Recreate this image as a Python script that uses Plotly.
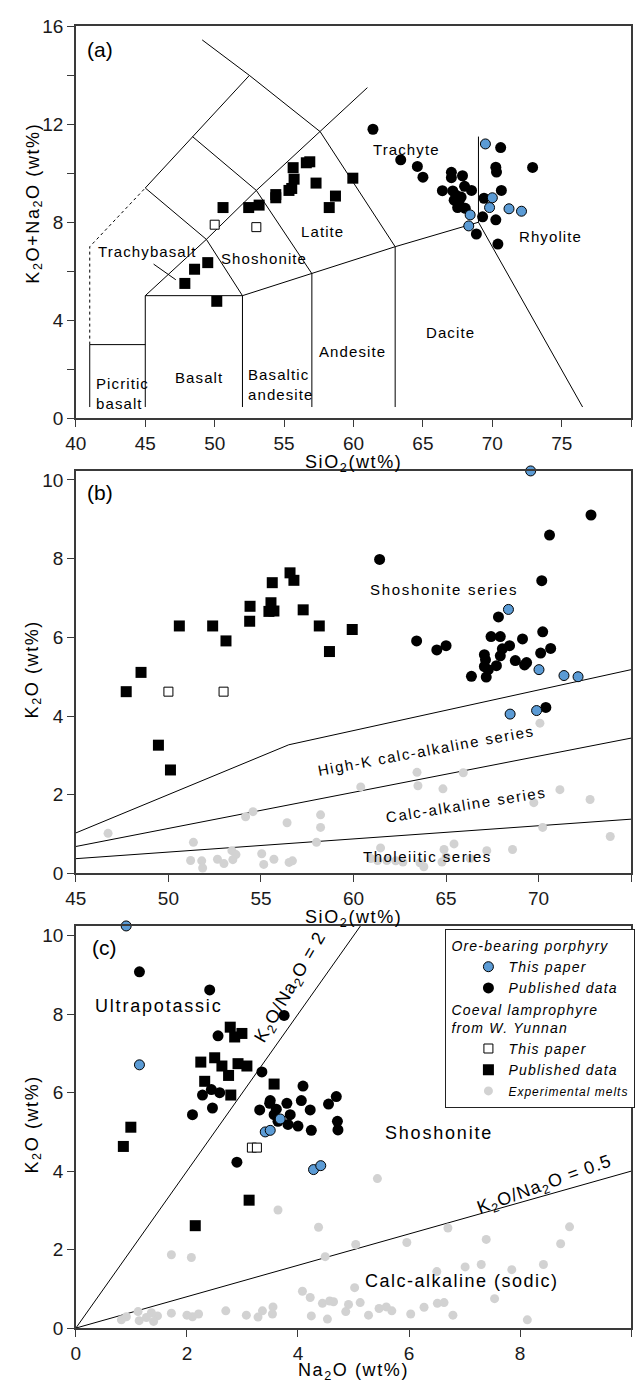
import plotly.graph_objects as go

FONT = "Arial, 'Liberation Sans', sans-serif"

# ---------------- Panel (a): TAS ----------------
A_LAMP_PUB_SIO2 = [47.85, 48.55, 49.5, 50.15, 50.6, 52.45, 53.2, 54.4, 54.4, 55.35, 55.55, 55.65, 55.72, 56.6, 56.85, 57.3, 58.25, 58.7, 59.95]
A_LAMP_PUB_ALK = [5.5, 6.08, 6.35, 4.77, 8.6, 8.6, 8.7, 9.13, 9.0, 9.3, 9.38, 10.23, 9.76, 10.43, 10.47, 9.6, 8.6, 9.07, 9.8]
A_LAMP_THIS_SIO2 = [50.0, 53.0]
A_LAMP_THIS_ALK = [7.9, 7.8]
A_POR_PUB_SIO2 = [61.4, 63.4, 64.6, 65.0, 66.4, 67.05, 67.05, 67.15, 67.85, 68.0, 67.25, 67.5, 67.75, 68.05, 68.5,
                  68.85, 69.3, 69.4, 70.25, 70.25, 70.3, 70.4, 70.6, 70.65, 72.9, 67.4, 67.6]
A_POR_PUB_ALK = [11.8, 10.55, 10.28, 9.84, 9.29, 10.04, 9.82, 9.28, 9.9, 9.47, 8.9, 8.6, 9.03, 8.57, 9.3,
                 7.52, 8.22, 8.98, 8.1, 10.25, 10.05, 7.11, 11.05, 9.3, 10.24, 9.1, 8.85]
A_POR_THIS_SIO2 = [69.5, 70.0, 69.8, 71.2, 72.1, 68.4, 68.3]
A_POR_THIS_ALK = [11.2, 9.0, 8.6, 8.55, 8.45, 8.3, 7.85]

# TAS field boundaries (SiO2, K2O+Na2O)
TAS_SOLID = [
    [(41, 0.45), (41, 3), (45, 3)],
    [(45, 0.45), (45, 5), (52, 5), (57, 5.9), (63, 7), (69, 8)],
    [(52, 0.45), (52, 5)],
    [(57, 0.45), (57, 5.9)],
    [(63, 0.45), (63, 7)],
    [(45, 5), (49.4, 7.3), (53, 9.3), (57.6, 11.7), (61, 13.5)],
    [(52, 5), (49.4, 7.3), (45, 9.4)],
    [(57, 5.9), (53, 9.3), (48.4, 11.5)],
    [(63, 7), (57.6, 11.7), (52.5, 14), (49.1, 15.45)],
    [(45, 9.4), (48.4, 11.5), (52.5, 14)],
    [(69, 11.5), (69, 8), (76.5, 0.45)],
    [(45.6, 6.29), (47.2, 5.65)],
]
TAS_DOTTED = [(41, 3), (41, 7), (45, 9.4)]
TAS_LABELS = [
    ("Trachyte", 63.8, 10.98), ("Latite", 57.75, 7.62), ("Shoshonite", 53.55, 6.5),
    ("Trachybasalt", 45.15, 6.81), ("Rhyolite", 74.2, 7.43), ("Dacite", 67.0, 3.48),
    ("Andesite", 59.9, 2.7), ("Basalt", 48.9, 1.65),
]
TAS_LABELS_LEFT = [("Basaltic<br>andesite", 52.25, 1.38), ("Picritic<br>basalt", 41.3, 1.01)]

# ---------------- Panel (b): SiO2 vs K2O ----------------
B_LAMP_PUB_SIO2 = [47.72, 48.52, 49.46, 50.11, 50.59, 52.39, 53.11, 54.39, 54.41, 55.43, 55.54, 55.7, 55.61, 56.57, 56.78, 57.28, 58.15, 58.7, 59.93]
B_LAMP_PUB_K2O = [4.62, 5.11, 3.26, 2.63, 6.29, 6.29, 5.91, 6.41, 6.79, 6.66, 6.88, 6.67, 7.39, 7.64, 7.45, 6.7, 6.29, 5.64, 6.2]
B_LAMP_THIS_SIO2 = [50.0, 52.98]
B_LAMP_THIS_K2O = [4.62, 4.62]
B_POR_THIS_SIO2 = [69.57, 68.37, 70.02, 71.37, 72.13, 68.46, 69.89]
B_POR_THIS_K2O = [10.23, 6.71, 5.18, 5.03, 5.0, 4.05, 4.14]
B_POR_PUB_SIO2 = [61.41, 63.41, 64.5, 65.0, 66.37, 67.07, 67.13, 67.07, 67.17, 67.28, 67.43, 67.72, 67.83, 67.93,
                  67.93, 68.04, 68.43, 68.74, 69.13, 69.24, 69.35, 70.11, 70.22, 70.17, 70.39, 70.59, 70.65, 72.83]
B_POR_PUB_K2O = [7.98, 5.91, 5.68, 5.79, 5.01, 5.56, 5.43, 5.26, 4.99, 5.18, 6.02, 5.28, 6.52, 6.02,
                 5.53, 5.71, 5.79, 5.41, 5.96, 5.30, 5.36, 5.6, 6.14, 7.44, 4.22, 8.6, 5.72, 9.11]
B_MELT_SIO2 = [46.74, 51.35, 51.2, 51.8, 51.85, 52.65, 53.0, 53.43, 53.48, 53.65, 54.17, 54.57, 55.04, 55.15,
               55.7, 56.41, 56.52, 56.7, 58.0, 58.22, 58.22, 60.39, 60.93, 61.3, 61.46, 61.8, 62.28, 62.67,
               63.43, 63.48, 63.59, 63.8, 64.83, 64.78, 64.89, 65.0, 65.43, 65.93, 66.3, 67.2, 68.59, 69.74,
               70.07, 70.22, 71.15, 72.78, 73.87]
B_MELT_K2O = [1.02, 0.79, 0.33, 0.32, 0.14, 0.36, 0.25, 0.58, 0.35, 0.48, 1.44, 1.57, 0.5, 0.23,
              0.36, 1.29, 0.28, 0.32, 0.79, 1.17, 1.49, 2.2, 0.38, 0.33, 0.65, 0.33, 0.32, 0.29,
              2.57, 2.23, 0.27, 0.17, 2.15, 0.29, 0.61, 0.42, 0.75, 2.56, 0.38, 0.58, 0.61, 1.8,
              3.82, 1.17, 2.13, 1.88, 0.94]
B_SHO_LINE_SIO2 = [45, 55.9, 56.5, 75]
B_SHO_LINE_K2O = [1.03, 3.17, 3.27, 5.18]
B_HK_LINE_SIO2 = [45, 75]
B_HK_LINE_K2O = [0.685, 3.44]
B_TH_LINE_SIO2 = [45, 75]
B_TH_LINE_K2O = [0.376, 1.38]

# ---------------- Panel (c): Na2O vs K2O ----------------
C_POR_THIS_NA2O = [0.906, 1.145, 3.68, 3.41, 3.5, 4.28, 4.41]
C_POR_THIS_K2O = [10.25, 6.71, 5.33, 5.0, 5.04, 4.04, 4.14]
C_POR_PUB_NA2O = [1.145, 2.41, 3.75, 2.56, 2.1, 2.28, 2.44, 2.46, 2.59, 2.9, 3.35, 3.31, 3.49, 3.5, 3.57,
                  3.61, 3.64, 3.8, 3.82, 3.86, 4.0, 4.06, 4.09, 4.22, 4.24, 4.55, 4.69, 4.71, 4.72]
C_POR_PUB_K2O = [9.08, 8.62, 7.97, 7.45, 5.44, 5.94, 6.08, 5.61, 6.0, 4.23, 6.53, 5.56, 5.73, 5.8, 5.44,
                 5.58, 5.27, 5.73, 5.19, 5.44, 5.15, 5.8, 6.17, 5.56, 5.04, 5.71, 5.9, 5.27, 5.05]
C_LAMP_PUB_NA2O = [0.855, 0.99, 2.15, 3.12, 2.25, 2.32, 2.5, 2.63, 2.75, 2.79, 2.78, 2.86, 2.99, 2.92, 3.08, 3.57]
C_LAMP_PUB_K2O = [4.63, 5.12, 2.61, 3.26, 6.78, 6.29, 6.89, 6.68, 6.44, 5.94, 7.67, 7.42, 7.51, 6.74, 6.68, 6.22]
C_LAMP_THIS_NA2O = [3.17, 3.26]
C_LAMP_THIS_K2O = [4.6, 4.6]
C_MELT_NA2O = [1.72, 2.08, 3.64, 5.43, 4.37, 4.49, 5.04, 5.96, 6.7, 7.39, 8.73, 8.89, 6.5, 7.01, 7.3, 7.85, 8.42,
               4.08, 4.22, 4.44, 4.57, 4.64, 4.91, 4.86, 5.02, 5.12, 5.27, 5.46, 5.59, 5.69, 6.03, 6.27, 6.51,
               6.63, 6.79, 7.54, 8.13, 4.24, 4.53, 3.55, 3.54, 3.36, 3.28, 3.07, 2.7, 2.21, 2.1, 2.0, 1.72,
               1.47, 1.4, 1.36, 1.27, 1.14, 1.12, 0.91, 0.82]
C_MELT_K2O = [1.87, 1.8, 3.01, 3.81, 2.57, 1.82, 2.13, 2.18, 2.55, 2.26, 2.15, 2.58, 1.44, 1.56, 1.62, 1.49, 1.62,
              0.94, 0.78, 0.63, 0.69, 0.67, 0.6, 0.42, 1.03, 0.65, 0.33, 0.5, 0.54, 0.44, 0.36, 0.53, 0.63,
              0.65, 0.33, 0.75, 0.21, 0.31, 0.23, 0.54, 0.36, 0.44, 0.28, 0.33, 0.44, 0.36, 0.29, 0.33, 0.38,
              0.31, 0.17, 0.39, 0.27, 0.19, 0.42, 0.29, 0.21]
C_RATIO2_NA2O = [0, 5.125]
C_RATIO2_K2O = [0, 10.25]
C_RATIO05_NA2O = [0, 10]
C_RATIO05_K2O = [0, 4]

BLUE = "#5b9bd5"
GRAY = "#d2d2d2"


def ls(text, px):
    return '<span style="letter-spacing:%spx">%s</span>' % (px, text)


fig = go.Figure()


def line(xs, ys, xa, ya, dash="solid"):
    fig.add_trace(go.Scatter(x=xs, y=ys, xaxis=xa, yaxis=ya, mode="lines",
                             line=dict(color="black", width=1, dash=dash),
                             showlegend=False, hoverinfo="skip"))


def pts(xs, ys, xa, ya, kind, show=False, name=None, group=None, gtitle=None, rank=None):
    styles = {
        "melt": dict(symbol="circle", size=9, color=GRAY, line=dict(width=0)),
        "lamp_this": dict(symbol="square", size=9, color="white", line=dict(color="black", width=1)),
        "lamp_pub": dict(symbol="square", size=11, color="black", line=dict(width=0)),
        "por_pub": dict(symbol="circle", size=11, color="black", line=dict(width=0)),
        "por_this": dict(symbol="circle", size=10, color=BLUE, line=dict(color="black", width=1)),
    }
    kw = {}
    if group:
        kw["legendgroup"] = group
    if gtitle:
        kw["legendgrouptitle"] = dict(text=gtitle, font=dict(size=14, family=FONT, color="black"))
    if rank is not None:
        kw["legendrank"] = rank
    fig.add_trace(go.Scatter(x=xs, y=ys, xaxis=xa, yaxis=ya, mode="markers",
                             marker=styles[kind], showlegend=show, name=name,
                             cliponaxis=False, **kw))


# panel (a)
for seg in TAS_SOLID:
    line([p[0] for p in seg], [p[1] for p in seg], "x", "y")
line([p[0] for p in TAS_DOTTED], [p[1] for p in TAS_DOTTED], "x", "y", dash="dot")
pts(A_LAMP_THIS_SIO2, A_LAMP_THIS_ALK, "x", "y", "lamp_this")
pts(A_LAMP_PUB_SIO2, A_LAMP_PUB_ALK, "x", "y", "lamp_pub")
pts(A_POR_PUB_SIO2, A_POR_PUB_ALK, "x", "y", "por_pub")
pts(A_POR_THIS_SIO2, A_POR_THIS_ALK, "x", "y", "por_this")

# panel (b)
line(B_SHO_LINE_SIO2, B_SHO_LINE_K2O, "x2", "y2")
line(B_HK_LINE_SIO2, B_HK_LINE_K2O, "x2", "y2")
line(B_TH_LINE_SIO2, B_TH_LINE_K2O, "x2", "y2")
pts(B_MELT_SIO2, B_MELT_K2O, "x2", "y2", "melt")
pts(B_LAMP_THIS_SIO2, B_LAMP_THIS_K2O, "x2", "y2", "lamp_this")
pts(B_LAMP_PUB_SIO2, B_LAMP_PUB_K2O, "x2", "y2", "lamp_pub")
pts(B_POR_PUB_SIO2, B_POR_PUB_K2O, "x2", "y2", "por_pub")
pts(B_POR_THIS_SIO2, B_POR_THIS_K2O, "x2", "y2", "por_this")

# panel (c)
LG = 1.2
line(C_RATIO2_NA2O, C_RATIO2_K2O, "x3", "y3")
line(C_RATIO05_NA2O, C_RATIO05_K2O, "x3", "y3")
pts(C_MELT_NA2O, C_MELT_K2O, "x3", "y3", "melt", True,
    '<span style="font-size:12px;letter-spacing:1px"><i>Experimental melts</i></span>', rank=5)
pts(C_LAMP_THIS_NA2O, C_LAMP_THIS_K2O, "x3", "y3", "lamp_this", True, ls("<i>This paper</i>", LG), "lamp",
    ls("<i>Coeval lamprophyre<br>from W. Yunnan</i>", LG), rank=3)
pts(C_LAMP_PUB_NA2O, C_LAMP_PUB_K2O, "x3", "y3", "lamp_pub", True, ls("<i>Published data</i>", LG), "lamp", rank=4)
pts(C_POR_PUB_NA2O, C_POR_PUB_K2O, "x3", "y3", "por_pub", True, ls("<i>Published data</i>", LG), "ore", rank=2)
pts(C_POR_THIS_NA2O, C_POR_THIS_K2O, "x3", "y3", "por_this", True, ls("<i>This paper</i>", LG), "ore",
    ls("<i>Ore-bearing porphyry</i>", LG), rank=1)

XDOM = [66 / 641, 631 / 641]
YDOM_A = [1 - 414.3 / 1390, 1 - 16.7 / 1390]
YDOM_B = [1 - 876.7 / 1390, 1 - 468 / 1390]
YDOM_C = [1 - 1338.3 / 1390, 1 - 930 / 1390]

axis_style = dict(showline=True, mirror=True, linecolor="#3a3a3a", linewidth=1.5, ticks="outside",
                  ticklen=7, tickwidth=1.2, tickcolor="#3a3a3a", showgrid=False, zeroline=False,
                  tickfont=dict(size=19, family=FONT, color="#1a1a1a"), fixedrange=True)

A_YTICKS = [0, 2, 4, 6, 8, 10, 12, 14, 16]
A_YLABELS = ["0", "", "4", "", "8", "", "12", "", "16"]

fig.update_layout(
    width=641, height=1390, autosize=False,
    margin=dict(l=0, r=0, t=0, b=0),
    paper_bgcolor="white", plot_bgcolor="white",
    font=dict(family=FONT, color="black"),
    xaxis=dict(domain=XDOM, range=[40, 80], tickvals=[40, 45, 50, 55, 60, 65, 70, 75, 80], anchor="y", **axis_style),
    yaxis=dict(domain=YDOM_A, range=[0, 16], tickvals=A_YTICKS, ticktext=A_YLABELS, anchor="x", **axis_style),
    xaxis2=dict(domain=XDOM, range=[45, 75], tickvals=[45, 50, 55, 60, 65, 70, 75], anchor="y2", **axis_style),
    yaxis2=dict(domain=YDOM_B, range=[0, 10.23], tickvals=[0, 2, 4, 6, 8, 10], anchor="x2", **axis_style),
    xaxis3=dict(domain=XDOM, range=[0, 10], tickvals=[0, 2, 4, 6, 8, 10], anchor="y3", **axis_style),
    yaxis3=dict(domain=YDOM_C, range=[0, 10.25], tickvals=[0, 2, 4, 6, 8, 10], anchor="x3", **axis_style),
    legend=dict(x=442 / 641, y=1 - 933 / 1390, xanchor="left", yanchor="top",
                bgcolor="white", bordercolor="#222", borderwidth=1,
                font=dict(size=14, family=FONT, color="black"),
                traceorder="grouped", tracegroupgap=0, indentation=22, itemsizing="trace"),
)

ann = []


def txt(text, x, y, xref, yref, size=15, angle=0, xanchor="center", align="center", sp=0):
    if sp:
        text = ls(text, sp)
    ann.append(dict(text=text, x=x, y=y, xref=xref, yref=yref, showarrow=False, textangle=angle,
                    xanchor=xanchor, yanchor="middle", align=align,
                    font=dict(size=size, family=FONT, color="black")))


# panel (a) texts
txt("(a)", 41.75, 15.06, "x", "y", size=21)
for t, x, y in TAS_LABELS:
    txt(t, x, y, "x", "y", sp=1.1)
for t, x, y in TAS_LABELS_LEFT:
    txt(t, x, y, "x", "y", xanchor="left", align="left", sp=1.1)

# panel (b) texts
txt("(b)", 46.3, 9.69, "x2", "y2", size=21)
txt("Shoshonite series", 64.9, 7.21, "x2", "y2", sp=1.7)
txt("High-K calc-alkaline series", 63.9, 3.13, "x2", "y2", angle=-10.5, sp=1.6)
txt("Calc-alkaline series", 66.1, 1.75, "x2", "y2", angle=-9, sp=1.6)
txt("Tholeiitic series", 64.0, 0.43, "x2", "y2", sp=1.5)

# panel (c) texts
txt("(c)", 0.51, 9.71, "x3", "y3", size=21)
txt("Ultrapotassic", 1.49, 8.2, "x3", "y3", size=18, sp=1.8)
txt("K<sub>2</sub>O/Na<sub>2</sub>O = 2", 3.88, 8.68, "x3", "y3", size=18, angle=-60, sp=1)
txt("Shoshonite", 6.54, 4.96, "x3", "y3", size=18, sp=1.8)
txt("K<sub>2</sub>O/Na<sub>2</sub>O = 0.5", 8.44, 3.64, "x3", "y3", size=18, angle=-20, sp=1)
txt("Calc-alkaline (sodic)", 6.96, 1.21, "x3", "y3", size=18, sp=1.5)

# axis titles
XC = (66 + 631) / 2 / 641
txt("SiO<sub>2</sub>(wt%)", XC, 1 - 460 / 1390, "paper", "paper", size=18, sp=1.6)
txt("SiO<sub>2</sub>(wt%)", XC, 1 - 922 / 1390, "paper", "paper", size=18, sp=1.6)
txt("Na<sub>2</sub>O (wt%)", XC, 1 - 1382 / 1390, "paper", "paper", size=18, sp=1.6)
txt("K<sub>2</sub>O+Na<sub>2</sub>O (wt%)", 23 / 641, 1 - 196 / 1390, "paper", "paper", size=18, angle=-90, sp=1.6)
txt("K<sub>2</sub>O (wt%)", 23 / 641, 1 - 670 / 1390, "paper", "paper", size=18, angle=-90, sp=1.6)
txt("K<sub>2</sub>O (wt%)", 23 / 641, 1 - 1132 / 1390, "paper", "paper", size=18, angle=-90, sp=1.6)

fig.update_layout(annotations=ann)

fig.write_html("out.html", config={"displayModeBar": False})
